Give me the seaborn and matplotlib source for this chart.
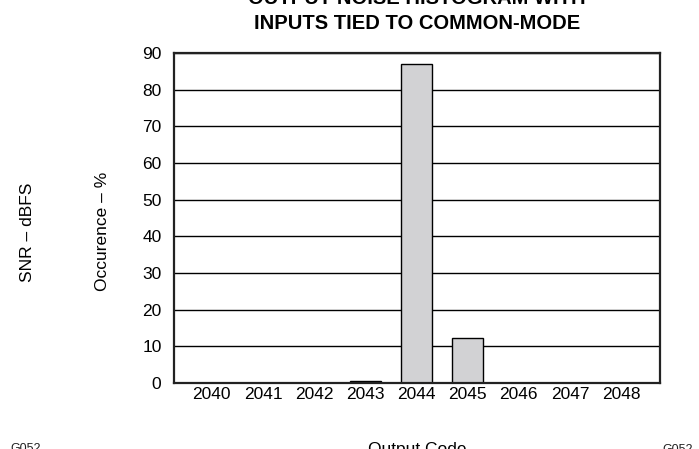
import pandas as pd
import numpy as np
import seaborn as sns
import matplotlib.pyplot as plt

codes = ["2040", "2041", "2042", "2043", "2044", "2045", "2046", "2047", "2048"]
occurence = [0, 0, 0, 0.5, 87.0, 12.2, 0, 0, 0]
y_ticks = [0, 10, 20, 30, 40, 50, 60, 70, 80, 90]

sns.set_theme(style="white")
plt.rcParams['font.family'] = ['Liberation Sans', 'DejaVu Sans']

df = pd.DataFrame({"code": codes, "occ": occurence})

fig = plt.figure(figsize=(6.99, 4.49), dpi=100)
ax = fig.add_axes([174 / 699, 66 / 449, 486 / 699, 330 / 449])

sns.barplot(data=df, x="code", y="occ", order=codes, color="#d2d2d4",
            saturation=1, width=0.6, edgecolor="black", linewidth=1, ax=ax)

ax.set_xlim(-0.74, 8.76)
ax.set_ylim(0, 90)
ax.set_yticks(y_ticks)
ax.set_axisbelow(True)
ax.yaxis.grid(True, color="black", linewidth=1)
ax.xaxis.grid(False)
for s in ax.spines.values():
    s.set_color("#222222")
    s.set_linewidth(1.6)
ax.tick_params(axis="both", length=0, labelsize=12.5, colors="black")
ax.tick_params(axis="y", pad=9)
ax.tick_params(axis="x", pad=3)
ax.set_xlabel("")
ax.set_ylabel("")

# labels (the reference is cropped, so some texts run off the edges)
fig.text(103 / 699, 218 / 449, "Occurence – %", rotation=90, ha="center",
         va="center", fontsize=12.5, color="black")
fig.text(27 / 699, 217 / 449, "SNR – dBFS", rotation=90, ha="center",
         va="center", fontsize=12.5, color="black")
fig.text(417 / 699, -5 / 449, "Output Code", ha="center", va="baseline",
         fontsize=12.5, color="black")
fig.text(417 / 699, 420 / 449, "INPUTS TIED TO COMMON-MODE", ha="center",
         va="baseline", fontsize=14.5, fontweight="bold", color="black")
fig.text(417 / 699, 445 / 449, "OUTPUT NOISE HISTOGRAM WITH", ha="center",
         va="baseline", fontsize=14.5, fontweight="bold", color="black")
fig.text(10 / 699, -3 / 449, "G052", ha="left", va="baseline",
         fontsize=9, color="#222222")
fig.text(662 / 699, -4 / 449, "G052", ha="left", va="baseline",
         fontsize=9, color="#222222")

fig.savefig("out.png", dpi=100)
